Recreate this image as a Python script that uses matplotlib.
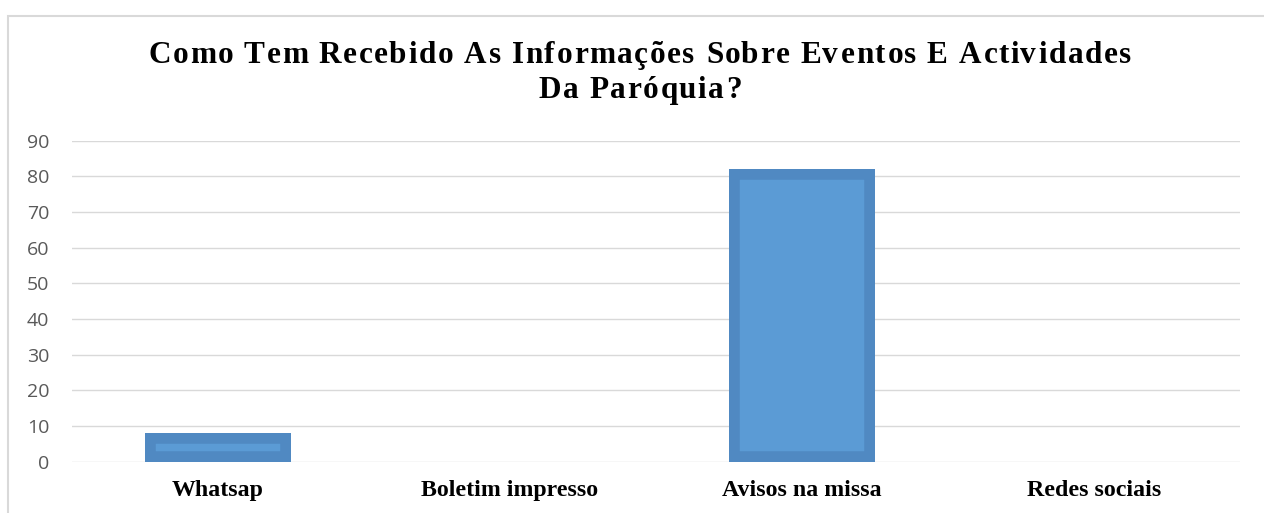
import matplotlib.pyplot as plt
from matplotlib.patches import Rectangle
from matplotlib.font_manager import FontProperties, findfont, get_font

categorias = ['Whatsap', 'Boletim impresso', 'Avisos na missa', 'Redes sociais']
valores = [8, 0, 82, 0]
ticks_y = [0, 10, 20, 30, 40, 50, 60, 70, 80, 90]
titulo = ['Como Tem Recebido As Informações Sobre Eventos E Actividades',
          'Da Paróquia?']

W, H = 1264, 513
fig = plt.figure(figsize=(W / 100, H / 100), dpi=100)

# borda do gráfico (cortada à direita e em baixo, como no original)
fig.patches.append(Rectangle((8 / W, -0.05), 1.1, 1 - 16 / H + 0.05,
                             transform=fig.transFigure, fill=False,
                             edgecolor='#d9d9d9', linewidth=1.5))

ax = fig.add_axes([72 / W, 51.3 / H, (1240 - 72) / W, (461.7 - 140.7) / H])

x = range(len(categorias))
barras = ax.bar(x, valores, width=0.5, color='#5b9bd5', edgecolor='#5089c2',
                linewidth=15.5, zorder=3)
for b in barras:
    b.set_clip_path(b)  # contorno só por dentro

ax.set_xlim(-0.5, len(categorias) - 0.5)
ax.set_ylim(0, 90)
ax.set_yticks(ticks_y)
ax.yaxis.grid(True, color='#d9d9d9', linewidth=1.0, zorder=0)
ax.set_xticks(list(x))
ax.set_xticklabels(categorias, fontfamily='Liberation Serif', fontweight='bold',
                   fontsize=17.2, color='black')
for lab in ax.get_yticklabels():
    lab.set_fontfamily('Open Sans')
    lab.set_fontsize(14)
    lab.set_color('#595959')
ax.tick_params(axis='both', length=0)
ax.tick_params(axis='x', pad=13.5)
ax.tick_params(axis='y', pad=16.5)
for s in ax.spines.values():
    s.set_visible(False)

# título com espaçamento entre letras (como no Excel)
tam = 22.5
fonte = dict(fontfamily='Liberation Serif', fontweight='bold', fontsize=tam)
ft = get_font(findfont(FontProperties(family='Liberation Serif', weight='bold')))
ft.set_size(tam, 100)


def glifos(s):
    res = []
    for c in s:
        g = ft.load_char(ord(c))
        res.append((g.linearHoriAdvance / 65536, g.horiBearingX / 64))
    return res


largura_l1 = 983  # largura da 1a linha no original, px
g1 = glifos(titulo[0])
track = (largura_l1 - sum(a for a, _ in g1)) / (len(titulo[0]) - 1)

for linha, base in zip(titulo, [63, 98]):
    gl = glifos(linha)
    total = sum(a for a, _ in gl) + track * (len(linha) - 1)
    xi = 639 - total / 2
    for ch, (a, lsb) in zip(linha, gl):
        if ch != ' ':
            fig.text((xi + lsb) / W, 1 - base / H, ch, ha='left',
                     va='baseline', **fonte)
        xi += a + track

fig.savefig('out.png', dpi=100)
